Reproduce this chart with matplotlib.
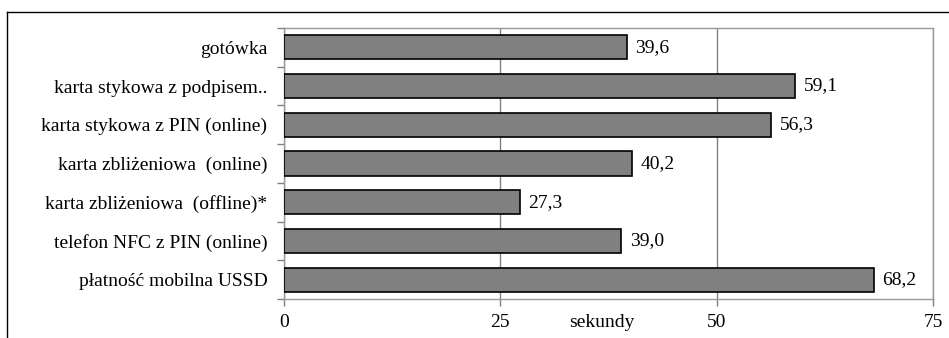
import matplotlib.pyplot as plt
from matplotlib.lines import Line2D

plt.rcParams["font.family"] = ["Liberation Serif", "DejaVu Serif"]

categories = [
    "gotówka",
    "karta stykowa z podpisem..",
    "karta stykowa z PIN (online)",
    "karta zbliżeniowa  (online)",
    "karta zbliżeniowa  (offline)*",
    "telefon NFC z PIN (online)",
    "płatność mobilna USSD",
]
values = [39.6, 59.1, 56.3, 40.2, 27.3, 39.0, 68.2]
xticks = [0, 25, 50, 75]

FS = 14

fig = plt.figure(figsize=(9.49, 3.38), dpi=100)
ax = fig.add_axes([284 / 949, 1 - 299 / 338, (933 - 284) / 949, (299 - 28) / 338])

pos = list(range(len(categories)))
ax.barh(pos, values, height=0.62, color="#808080", edgecolor="black",
        linewidth=1.2, zorder=3)
for p, v in zip(pos, values):
    ax.annotate(f"{v:.1f}".replace(".", ","), (v, p), xytext=(6, 0),
                textcoords="offset points", va="center", ha="left", fontsize=FS)

ax.set_xlim(0, 75)
ax.set_ylim(len(categories) - 0.5, -0.5)
ax.set_xticks(xticks)
ax.set_xticklabels([str(t) for t in xticks], fontsize=FS)
ax.set_yticks(pos)
ax.set_yticklabels(categories, fontsize=FS)
ax.set_yticks([p + 0.5 for p in [-1] + pos], minor=True)
ax.tick_params(axis="y", which="major", length=0, pad=12)
ax.tick_params(axis="y", which="minor", length=5, color="#808080", width=1)
ax.tick_params(axis="x", length=5, color="#808080", width=1, pad=6)
ax.grid(axis="x", color="#808080", linewidth=1, zorder=0)
for s in ax.spines.values():
    s.set_color("#999999")
    s.set_linewidth(1)

ax.text(0.49, -0.085, "sekundy", transform=ax.transAxes, ha="center",
        va="center", fontsize=FS)

# outer chart frame
fig.add_artist(Line2D([7 / 949, 1], [1 - 12 / 338] * 2, color="black", lw=1))
fig.add_artist(Line2D([7 / 949] * 2, [0, 1 - 12 / 338], color="black", lw=1))

fig.savefig("out.png", dpi=100)
